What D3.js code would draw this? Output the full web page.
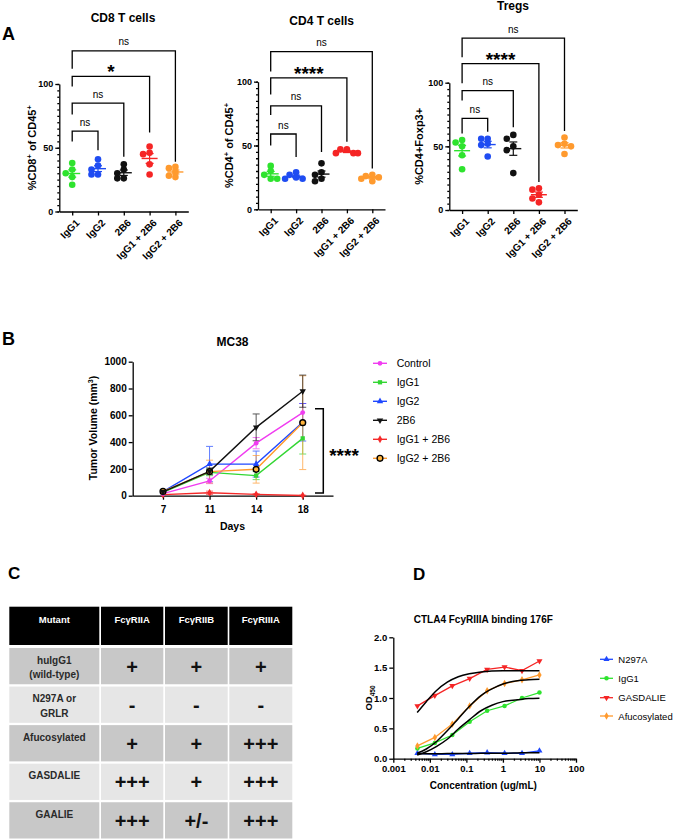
<!DOCTYPE html>
<html><head><meta charset="utf-8">
<script src="https://cdn.jsdelivr.net/npm/d3@7"></script>
<style>body{margin:0;background:#fff}svg{display:block}text{font-family:"Liberation Sans",Arial,sans-serif}</style>
</head><body><svg id="c" width="684" height="840"></svg>
<script>
// ---------------- DATA ----------------
// Panel A
const groups = ["IgG1","IgG2","2B6","IgG1 + 2B6","IgG2 + 2B6"];
const groupColors = ["#2ee32e","#1f4cf2","#111111","#f52525","#ff9a2e"];
const cd8Values  = [[38,33,30,27,21],[41,36,33,29,29],[37,33,30,26,26],[51,46,45,37,29],[35,34,31,28,27]];
const cd4Values  = [[34,30,27,24,24],[29,27,25,24,24],[36,29,27,24,22],[47,47,44,44,44],[27,26,25,24,22]];
const tregValues = [[55,53,50,43,32],[56,56,52,51,42],[59,56,50,47,29],[17,16,12,9,6],[57,52,51,50,44]];
const cd8Sig  = ["ns","ns","*","ns"];
const cd4Sig  = ["ns","ns","****","ns"];
const tregSig = ["ns","ns","****","ns"];
// bracket heights (axis units): level, left leg end, right leg end
const cd8Levels  = [63,85,106,126],   cd8LeftEnd  = [55,76,98,112],  cd8RightEnd  = [48,43,62,39];
const cd4Levels  = [59,81,103,123.5], cd4LeftEnd  = [50,74,90,108],  cd4RightEnd  = [41,45,53,32];
const tregLevels = [72,93.7,115,135], tregLeftEnd = [60,86,99.5,120],tregRightEnd = [61.5,65,22,62];

// Panel B
const days = ["7","11","14","18"];
const tumorNames  = ["Control","IgG1","IgG2","2B6","IgG1 + 2B6","IgG2 + 2B6"];
const tumorColors = ["#f03cf0","#33d633","#1f48ff","#111111","#f52a2a","#ff9a2e"];
const controlVol  = [15,110,392,620];
const igg1Vol     = [25,174,150,428];
const igg2Vol     = [30,236,236,548];
const b2b6Vol     = [28,182,510,780];
const igg1b2b6Vol = [8,22,10,2];
const igg2b2b6Vol = [32,180,197,545];
const controlErr  = [0,20,42,68];
const igg1Err     = [0,25,30,117];
const igg2Err     = [0,132,97,140];
const b2b6Err     = [0,25,100,120];
const igg1b2b6Err = [0,12,5,2];
const igg2b2b6Err = [0,85,103,350];
const tumorSigRange = [20,648];

// Panel C
const tableHeader = ["Mutant","FcγRIIA","FcγRIIB","FcγRIIIA"];
const tableMutants = [["huIgG1","(wild-type)"],["N297A or","GRLR"],["Afucosylated"],["GASDALIE"],["GAALIE"]];
const tableRIIA  = ["+","-","+","+++","+++"];
const tableRIIB  = ["+","-","+","+","+/-"];
const tableRIIIA = ["+","-","+++","+++","+++"];

// Panel D
const concentrations = [0.00457,0.0137,0.0412,0.123,0.37,1.11,3.33,10];
const n297aOD    = [0.09,0.07,0.07,0.09,0.10,0.09,0.09,0.13];
const igg1OD     = [0.17,0.26,0.39,0.61,0.79,0.87,1.00,1.09];
const gasdalieOD = [0.87,1.04,1.20,1.32,1.47,1.51,1.45,1.61];
const afucOD     = [0.21,0.35,0.57,0.87,1.12,1.24,1.30,1.38];
const fitConc     = [0.0045,0.008,0.015,0.03,0.06,0.12,0.25,0.5,1,2.5,5,10];
const n297aFit    = [0.08,0.08,0.08,0.085,0.085,0.085,0.09,0.09,0.09,0.095,0.1,0.1];
const igg1Fit     = [0.06,0.115,0.2,0.32,0.49,0.64,0.79,0.88,0.94,0.97,0.99,0.995];
const gasdalieFit = [0.76,0.94,1.12,1.26,1.35,1.40,1.43,1.445,1.45,1.45,1.45,1.45];
const afucFit     = [0.09,0.16,0.28,0.46,0.66,0.86,1.04,1.15,1.23,1.285,1.30,1.31];
const odNames  = ["N297A","IgG1","GASDALIE","Afucosylated"];
const odColors = ["#1f48ff","#2ee32e","#f52525","#ff9a2e"];

// ---------------- DRAW ----------------
const svg = d3.select("#c");
svg.append("rect").attr("width",684).attr("height",840).attr("fill","#fff");

function styleAxis(sel, fs){
  sel.selectAll("path,line").attr("stroke","#000").attr("stroke-width",1.3);
  sel.selectAll("text").attr("font-size",fs).attr("font-weight","bold").attr("fill","#000")
     .attr("font-family",'"Liberation Sans",Arial,sans-serif');
}
function label(x,y,s,fs,opt={}){
  return svg.append("text").attr("x",x).attr("y",y).text(s).attr("font-size",fs)
    .attr("font-weight",opt.weight||"bold").attr("text-anchor",opt.anchor||"middle").attr("fill",opt.fill||"#000");
}

// Panel labels
label(2,39.5,"A",18,{anchor:"start"});
label(2,345,"B",18,{anchor:"start"});
label(8,579,"C",17,{anchor:"start"});
label(413,580,"D",17,{anchor:"start"});

function dotPanel(c){
  const y = d3.scaleLinear().domain([0,100]).range([c.y0,c.y100]);
  const x = d3.scalePoint().domain(groups).range([c.axisX,c.axisX+5*c.step]).padding(0.5);
  const g = svg.append("g");
  const ya = g.append("g").attr("transform",`translate(${c.axisX},0)`)
    .call(d3.axisLeft(y).tickValues([0,50,100]).tickSize(4).tickSizeOuter(0).tickPadding(2));
  styleAxis(ya,9);
  const ym = g.append("g").attr("transform",`translate(${c.axisX},0)`)
    .call(d3.axisLeft(y).tickValues(d3.range(0,101,5)).tickSize(2).tickFormat(""));
  ym.select(".domain").remove(); styleAxis(ym,8);
  const xa = g.append("g").attr("transform",`translate(0,${c.y0})`)
    .call(d3.axisBottom(x).tickSize(4).tickSizeOuter(0).tickFormat(""));
  styleAxis(xa,8);
  g.selectAll("text.cat").data(groups).join("text").attr("class","cat")
    .attr("transform",d=>`translate(${x(d)+3},${c.y0+7}) rotate(-45)`)
    .attr("text-anchor","end").attr("dy","0.7em").attr("font-size",10).attr("font-weight","bold").text(d=>d);
  // y label
  const yl = g.append("text").attr("transform",`translate(${c.ylabelX},${(c.y0+c.y100)/2}) rotate(-90)`)
    .attr("text-anchor","middle").attr("font-size",11).attr("font-weight","bold");
  c.ylabel.forEach(p=>{ yl.append("tspan").text(p[0]).attr("font-size",p[1]?7.5:11).attr("dy",p[1]?-4:(p[2]?4:0)); });
  // title
  g.append("text").attr("x",c.titleX).attr("y",c.titleY).attr("text-anchor","middle")
    .attr("font-size",12).attr("font-weight","bold").text(c.title);
  // points, mean, sem
  c.values.forEach((vals,i)=>{
    const col = groupColors[i], cx = x(groups[i]);
    const placed=[];
    vals.slice().sort((a,b)=>b-a).forEach(v=>{
      const py=y(v);
      for(const off of [0,-6.5,6.5,-11,11]){
        const px=cx+off;
        if(placed.every(p=>Math.hypot(p[0]-px,p[1]-py)>=4.5)){placed.push([px,py]);break;}
      }
    });
    const m=d3.mean(vals), se=d3.deviation(vals)/Math.sqrt(vals.length);
    g.append("line").attr("x1",cx).attr("x2",cx).attr("y1",y(m-se)).attr("y2",y(m+se)).attr("stroke",col).attr("stroke-width",1.2);
    [m-se,m+se].forEach(v=>g.append("line").attr("x1",cx-4).attr("x2",cx+4).attr("y1",y(v)).attr("y2",y(v)).attr("stroke",col).attr("stroke-width",1.2));
    g.selectAll(null).data(placed).join("circle").attr("cx",d=>d[0]).attr("cy",d=>d[1]).attr("r",3.3).attr("fill",col);
    g.append("line").attr("x1",cx-8).attr("x2",cx+8).attr("y1",y(m)).attr("y2",y(m)).attr("stroke",col).attr("stroke-width",1.4);
  });
  // brackets
  c.sig.forEach((s,k)=>{
    const xa0=x(groups[0]), xb=x(groups[k+1]);
    g.append("path").attr("d",`M${xa0},${y(c.leftEnd[k])}V${y(c.levels[k])}H${xb}V${y(c.rightEnd[k])}`)
      .attr("fill","none").attr("stroke","#000").attr("stroke-width",1.3);
    const isStar = s.includes("*");
    g.append("text").attr("x",(xa0+xb)/2).attr("y",y(c.levels[k])+(isStar?2:-5.5))
      .attr("text-anchor","middle").attr("font-size",isStar?19:10).attr("font-weight",isStar?"bold":"normal").text(s);
  });
}
dotPanel({axisX:59.3,y0:211.5,y100:84,step:25.8,values:cd8Values,sig:cd8Sig,levels:cd8Levels,leftEnd:cd8LeftEnd,rightEnd:cd8RightEnd,
  title:"CD8 T cells",titleX:123,titleY:21.5,ylabelX:36,ylabel:[["%CD8"],["+",1],[" of CD45",0,1],["+",1]]});
dotPanel({axisX:258,y0:209.3,y100:81.7,step:25.4,values:cd4Values,sig:cd4Sig,levels:cd4Levels,leftEnd:cd4LeftEnd,rightEnd:cd4RightEnd,
  title:"CD4 T cells",titleX:321.7,titleY:25,ylabelX:233,ylabel:[["%CD4"],["+",1],[" of CD45",0,1],["+",1]]});
dotPanel({axisX:449.3,y0:210,y100:82.7,step:25.6,values:tregValues,sig:tregSig,levels:tregLevels,leftEnd:tregLeftEnd,rightEnd:tregRightEnd,
  title:"Tregs",titleX:513,titleY:10,ylabelX:423,ylabel:[["%CD4+Foxp3+"]]});

// ---------- Panel B ----------
(function(){
  const x = d3.scalePoint().domain(days).range([132.7,333]).padding(0.65);
  const y = d3.scaleLinear().domain([0,1000]).range([495.7,361.7]);
  const g = svg.append("g");
  const ya = g.append("g").attr("transform","translate(132.7,0)")
    .call(d3.axisLeft(y).tickValues(d3.range(0,1001,200)).tickFormat(d3.format("d")).tickSize(4).tickSizeOuter(0).tickPadding(2));
  styleAxis(ya,10);
  const xa = g.append("g").attr("transform","translate(0,495.7)")
    .call(d3.axisBottom(x).tickSize(4).tickSizeOuter(0).tickPadding(6));
  styleAxis(xa,10);
  label(232.5,530,"Days",10.5);
  label(232.5,346,"MC38",12);
  const yl = g.append("text").attr("transform","translate(97,428) rotate(-90)").attr("text-anchor","middle")
    .attr("font-size",10.5).attr("font-weight","bold");
  yl.append("tspan").text("Tumor Volume (mm");
  yl.append("tspan").text("3").attr("font-size",7).attr("dy",-4);
  yl.append("tspan").text(")").attr("dy",4);

  const vols=[controlVol,igg1Vol,igg2Vol,b2b6Vol,igg1b2b6Vol,igg2b2b6Vol];
  const errs=[controlErr,igg1Err,igg2Err,b2b6Err,igg1b2b6Err,igg2b2b6Err];
  const syms=[d3.symbolCircle,d3.symbolSquare,d3.symbolTriangle,d3.symbolTriangle,d3.symbolDiamond,d3.symbolCircle];
  const rot=[0,0,0,180,0,0];
  const series = tumorNames.map((n,i)=>({name:n,color:tumorColors[i],pts:days.map((d,j)=>({d,v:vols[i][j],e:errs[i][j]})),sym:syms[i],rot:rot[i],open:i===5}));
  const drawOrder=[4,1,0,2,5,3];
  drawOrder.forEach(i=>{
    const s=series[i];
    s.pts.filter(p=>p.e>0).forEach(p=>{
      const px=x(p.d);
      const eg=g.append("g").attr("stroke",s.color).attr("stroke-width",1).attr("opacity",0.7);
      eg.append("line").attr("x1",px).attr("x2",px).attr("y1",y(p.v-p.e)).attr("y2",y(p.v+p.e));
      [p.v-p.e,p.v+p.e].forEach(v=>eg.append("line").attr("x1",px-3.5).attr("x2",px+3.5).attr("y1",y(v)).attr("y2",y(v)));
    });
  });
  const line=d3.line().x(p=>x(p.d)).y(p=>y(p.v));
  drawOrder.forEach(i=>{
    const s=series[i];
    g.append("path").attr("d",line(s.pts)).attr("fill","none").attr("stroke",s.color).attr("stroke-width",1.4);
  });
  drawOrder.forEach(i=>{
    const s=series[i];
    g.selectAll(null).data(s.pts).join("path")
      .attr("transform",p=>`translate(${x(p.d)},${y(p.v)}) rotate(${s.rot})`)
      .attr("d",d3.symbol(s.sym,s.open?26:18))
      .attr("fill",s.open?"#ffb43c":s.color).attr("stroke",s.open?"#000":"none").attr("stroke-width",1.4);
  });
  g.append("path").attr("d",`M315,${y(tumorSigRange[1])}H323.3V${y(tumorSigRange[0])}H315`)
    .attr("fill","none").attr("stroke","#000").attr("stroke-width",1.5);
  label(344,462,"****",19);
  series.forEach((s,i)=>{
    const ly=363.3+i*19;
    g.append("line").attr("x1",373).attr("x2",387).attr("y1",ly).attr("y2",ly).attr("stroke",s.color).attr("stroke-width",1.4);
    g.append("path").attr("transform",`translate(380,${ly}) rotate(${s.rot})`).attr("d",d3.symbol(s.sym,s.open?26:18))
      .attr("fill",s.open?"#ffb43c":s.color).attr("stroke",s.open?"#000":"none").attr("stroke-width",1.4);
    g.append("text").attr("x",396.7).attr("y",ly+3.8).attr("font-size",10.5).text(s.name);
  });
})();

// ---------- Panel C ----------
(function(){
  const g = svg.append("g");
  const colX=[9.3,101,165,229.3], colW=[90,62.3,62.7,63];
  const rowY=d3.scaleBand().domain(d3.range(tableMutants.length)).range([648,838.5]).paddingInner(0.06);
  tableHeader.forEach((h,j)=>{
    g.append("rect").attr("x",colX[j]).attr("y",606.7).attr("width",colW[j]).attr("height",38.3).attr("fill","#000");
    g.append("text").attr("x",colX[j]+colW[j]/2).attr("y",622.5).attr("text-anchor","middle")
      .attr("font-size",9.5).attr("font-weight","bold").attr("fill","#fff").text(h);
  });
  const cols=[tableRIIA,tableRIIB,tableRIIIA];
  tableMutants.forEach((m,i)=>{
    const ry=rowY(i), rh=rowY.bandwidth(), fill=i%2===0?"#c8c8c8":"#e6e6e6";
    colX.forEach((cx,j)=>g.append("rect").attr("x",cx).attr("y",ry).attr("width",colW[j]).attr("height",rh).attr("fill",fill));
    m.forEach((t,k)=>g.append("text").attr("x",colX[0]+colW[0]/2).attr("y",ry+15.5+k*14.5).attr("text-anchor","middle")
      .attr("font-size",10).attr("font-weight","bold").attr("fill","#2a2a2a").text(t));
    cols.forEach((c,j)=>g.append("text").attr("x",colX[j+1]+colW[j+1]/2).attr("y",ry+rh/2+7.5).attr("text-anchor","middle")
      .attr("font-size",20).attr("font-weight","bold").attr("fill","#111").text(c[i]));
  });
})();

// ---------- Panel D ----------
(function(){
  const x = d3.scaleLog().domain([0.001,100]).range([393.3,576]);
  const y = d3.scaleLinear().domain([0,2]).range([758.7,637.3]);
  const g = svg.append("g");
  const ya = g.append("g").attr("transform","translate(393.3,0)")
    .call(d3.axisLeft(y).tickValues([0,0.5,1,1.5,2]).tickFormat(d3.format(".1f")).tickSize(4).tickSizeOuter(0).tickPadding(2));
  styleAxis(ya,9.5);
  const minor=[];
  [0.001,0.01,0.1,1,10].forEach(dec=>d3.range(2,10).forEach(k=>minor.push(dec*k)));
  const xm = g.append("g").attr("transform","translate(0,758.7)").call(d3.axisBottom(x).tickValues(minor).tickSize(2).tickFormat(""));
  xm.select(".domain").remove(); styleAxis(xm,8);
  const xa = g.append("g").attr("transform","translate(0,758.7)")
    .call(d3.axisBottom(x).tickValues([0.001,0.01,0.1,1,10,100]).tickFormat(d3.format("~g")).tickSize(4).tickSizeOuter(0).tickPadding(3));
  styleAxis(xa,9.5);
  label(483.3,623,"CTLA4 FcyRIIIA binding 176F",10);
  label(483.3,789,"Concentration (ug/mL)",10);
  const yl = g.append("text").attr("transform","translate(372,698) rotate(-90)").attr("text-anchor","middle")
    .attr("font-size",9.5).attr("font-weight","bold");
  yl.append("tspan").text("OD"); yl.append("tspan").text("450").attr("font-size",6.5).attr("dy",3);

  const ods=[n297aOD,igg1OD,gasdalieOD,afucOD];
  const fits=[n297aFit,igg1Fit,gasdalieFit,afucFit];
  const syms=[d3.symbolTriangle,d3.symbolCircle,d3.symbolTriangle,d3.symbolDiamond];
  const rot=[0,0,180,0];
  const ln=d3.line().x(d=>x(d[0])).y(d=>y(d[1]));
  const fl=d3.line().x(d=>x(d[0])).y(d=>y(d[1])).curve(d3.curveMonotoneX);
  odNames.forEach((n,i)=>{
    const pts=concentrations.map((c,j)=>[c,ods[i][j]]);
    g.append("path").attr("d",ln(pts)).attr("fill","none").attr("stroke",odColors[i]).attr("stroke-width",1.3);
    g.selectAll(null).data(pts).join("path").attr("transform",d=>`translate(${x(d[0])},${y(d[1])}) rotate(${rot[i]})`)
      .attr("d",d3.symbol(syms[i],16)).attr("fill",odColors[i]);
  });
  fits.forEach(f=>{
    g.append("path").attr("d",fl(fitConc.map((c,j)=>[c,f[j]]))).attr("fill","none").attr("stroke","#000").attr("stroke-width",1.5);
  });
  odNames.forEach((n,i)=>{
    const ly=[659.3,678.3,697.7,716][i];
    g.append("line").attr("x1",600).attr("x2",613).attr("y1",ly).attr("y2",ly).attr("stroke",odColors[i]).attr("stroke-width",1.3);
    g.append("path").attr("transform",`translate(606.5,${ly}) rotate(${rot[i]})`).attr("d",d3.symbol(syms[i],16)).attr("fill",odColors[i]);
    g.append("text").attr("x",618.3).attr("y",ly+3.5).attr("font-size",9.5).text(n);
  });
})();
</script></body></html>
